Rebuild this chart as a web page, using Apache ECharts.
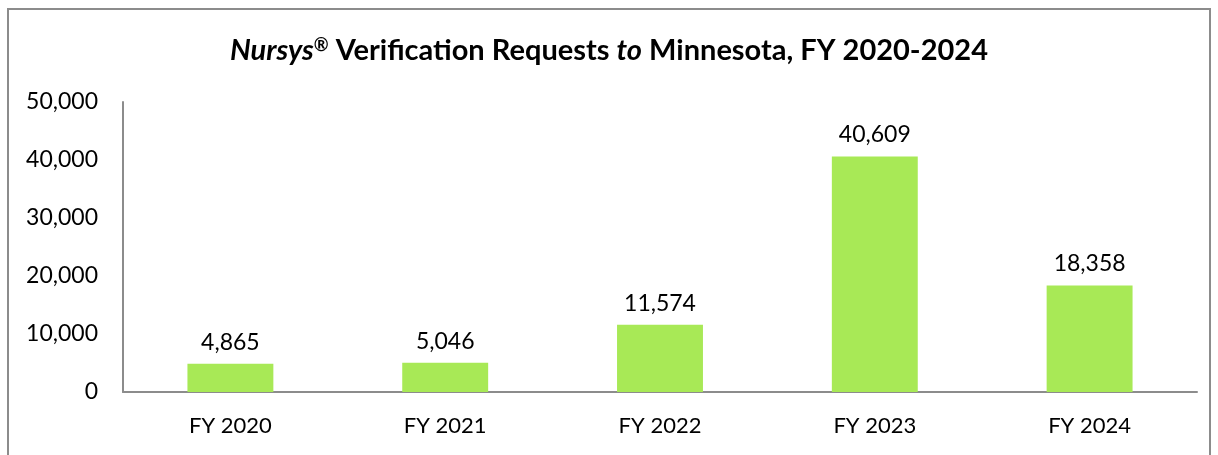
<!DOCTYPE html>
<html>
<head>
<meta charset="utf-8">
<script src="https://cdn.jsdelivr.net/npm/echarts@6/dist/echarts.min.js"></script>
<style>
  html, body { margin: 0; padding: 0; background: #fff; }
  #main { width: 1218px; height: 455px; }
</style>
</head>
<body>
<div id="main"></div>
<script>
const categories = ['FY 2020', 'FY 2021', 'FY 2022', 'FY 2023', 'FY 2024']
const requests = [4865, 5046, 11574, 40609, 18358]

const myChart = echarts.init(document.getElementById('main'))
const fmt = v => v.toLocaleString('en-US')

myChart.setOption({
  animation: false,
  textStyle: { fontFamily: 'Lato' },
  graphic: [
    {
      type: 'rect',
      shape: { x: 8, y: 9, width: 1202, height: 470 },
      style: { fill: 'none', stroke: '#8c8c8c', lineWidth: 2 },
      silent: true
    }
  ],
  title: {
    text: '{bi|Nursys}{sup|®}{b| Verification Requests }{bi|to}{b| Minnesota, FY 2020-2024}',
    left: 'center',
    top: 31,
    textStyle: {
      rich: {
        b: { fontFamily: 'Lato', fontWeight: 'bold', fontSize: 29, color: '#000' },
        bi: { fontFamily: 'Lato', fontWeight: 'bold', fontStyle: 'italic', fontSize: 29, color: '#000' },
        sup: { fontFamily: 'Lato', fontWeight: 'bold', fontSize: 18, color: '#000', verticalAlign: 'top', padding: [0, 0, 12, 0] }
      }
    }
  },
  grid: { left: 123, right: 21, top: 102, bottom: 63 },
  xAxis: {
    type: 'category',
    data: categories,
    axisLine: { lineStyle: { color: '#8c8c8c', width: 2 } },
    axisTick: { show: false },
    axisLabel: { color: '#000', fontSize: 22, margin: 23 }
  },
  yAxis: {
    type: 'value',
    min: 0,
    max: 50000,
    interval: 10000,
    axisLine: { show: true, lineStyle: { color: '#8c8c8c', width: 2 } },
    axisTick: { show: false },
    splitLine: { show: false },
    axisLabel: { color: '#000', fontSize: 23, margin: 25, formatter: fmt }
  },
  series: [
    {
      type: 'bar',
      data: requests,
      barWidth: '40%',
      itemStyle: { color: '#A8E956' },
      label: {
        show: true,
        position: 'top',
        distance: 10,
        color: '#000',
        fontSize: 23,
        formatter: p => fmt(p.value)
      }
    }
  ]
})
</script>
</body>
</html>
